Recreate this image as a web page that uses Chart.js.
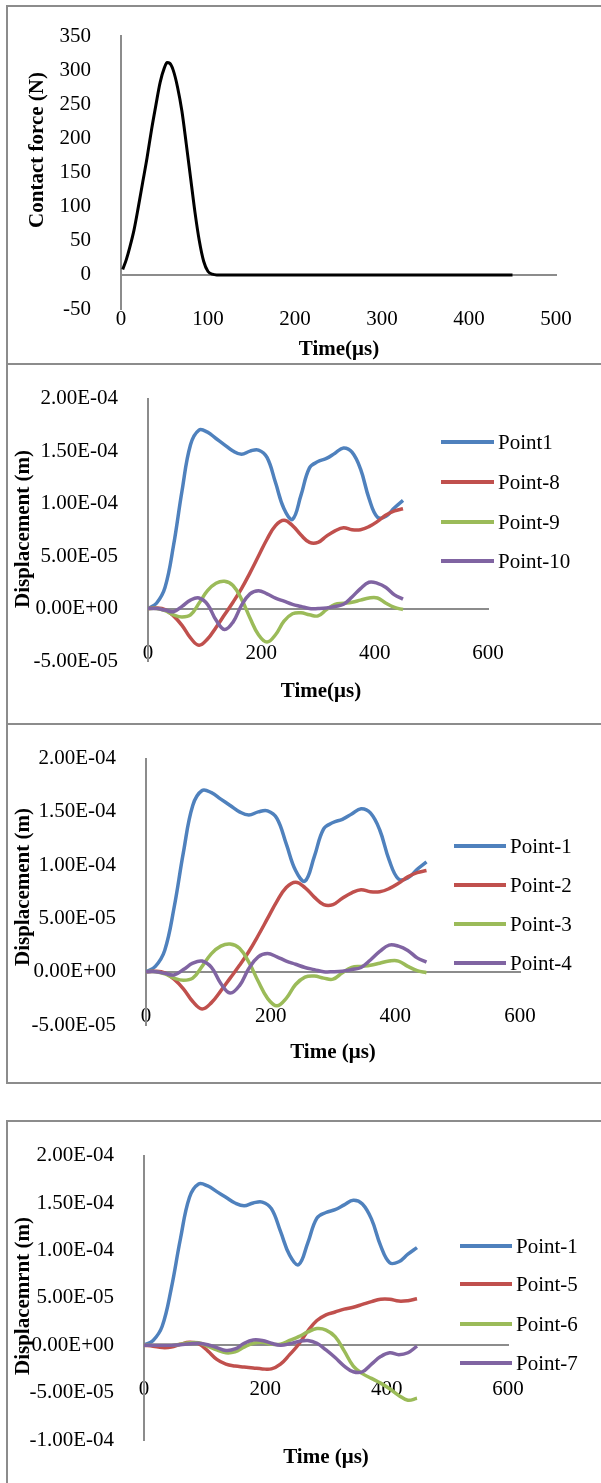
<!DOCTYPE html>
<html>
<head>
<meta charset="utf-8">
<script src="https://cdn.jsdelivr.net/npm/chart.js@4.4.1/dist/chart.umd.min.js"></script>
<style>
    html, body { margin: 0; padding: 0; background: #ffffff; }
    body { position: relative; width: 601px; height: 1483px; overflow: hidden; }
    canvas { position: absolute; left: 0; }
    .rule { position: absolute; background: #8c8c8c; }
</style>
</head>
<body>
<div class="rule" style="left:6px;top:5px;width:600px;height:2px"></div>
<div class="rule" style="left:6px;top:363px;width:600px;height:2px"></div>
<div class="rule" style="left:6px;top:723px;width:600px;height:2px"></div>
<div class="rule" style="left:6px;top:1082px;width:600px;height:2px"></div>
<div class="rule" style="left:6px;top:1120px;width:600px;height:2px"></div>
<div class="rule" style="left:6px;top:5px;width:2px;height:1079px"></div>
<div class="rule" style="left:6px;top:1120px;width:2px;height:400px"></div>

<canvas id="forceChart" width="601" height="364" style="top:0px"></canvas>
<canvas id="dispChartA" width="601" height="360" style="top:364px"></canvas>
<canvas id="dispChartB" width="601" height="359" style="top:724px"></canvas>
<canvas id="dispChartC" width="601" height="362" style="top:1121px"></canvas>

<script>
// contact force (N) vs time (µs)
const forceTime = [2, 6, 10, 15, 20, 25, 30, 35, 40, 45, 50, 53, 56, 60, 65, 70, 75, 80, 85, 90, 95, 100, 105, 110, 150, 200, 250, 300, 350, 400, 450];
const forceValues = [8, 22, 40, 66, 100, 136, 172, 212, 248, 282, 304, 311, 310, 300, 275, 240, 192, 142, 92, 50, 20, 5, 1, 0, 0, 0, 0, 0, 0, 0, 0];

// displacement, in units of 1e-5 m, sampled every 15 µs
const time = [0, 15, 30, 45, 60, 75, 90, 105, 120, 135, 150, 165, 180, 195, 210, 225,
              240, 255, 270, 285, 300, 315, 330, 345, 360, 375, 390, 405, 420, 435, 450];
const point1 = [0, 0.5, 2.0, 6.0, 11.2, 15.6, 17.0, 16.8, 16.2, 15.6, 15.0, 14.7, 15.0, 15.1, 14.4, 12.0,
                9.5, 8.5, 10.8, 13.4, 14.0, 14.3, 14.8, 15.3, 14.9, 13.3, 10.5, 8.7, 8.8, 9.6, 10.3];
const point2 = [0, 0.05, -0.1, -0.7, -1.6, -2.8, -3.5, -2.9, -1.8, -0.6, 0.6, 1.9, 3.4, 5.0, 6.6, 7.9,
                8.4, 7.9, 7.0, 6.3, 6.3, 6.9, 7.4, 7.7, 7.5, 7.5, 7.8, 8.3, 8.9, 9.3, 9.5];
const point3 = [0, 0, -0.2, -0.6, -0.8, -0.6, 0.5, 1.7, 2.4, 2.6, 2.2, 0.9, -0.9, -2.5, -3.2, -2.5,
                -1.2, -0.5, -0.4, -0.6, -0.7, -0.1, 0.4, 0.5, 0.6, 0.8, 1.0, 1.0, 0.5, 0.1, -0.1];
const point4 = [0, 0, -0.15, -0.3, 0.2, 0.8, 1.0, 0.4, -1.1, -2.0, -1.3, 0.3, 1.4, 1.7, 1.4, 1.0,
                0.7, 0.4, 0.2, 0.0, 0.0, 0.05, 0.2, 0.4, 1.1, 1.9, 2.5, 2.4, 2.0, 1.3, 0.9];
const point5 = [0, -0.1, -0.25, -0.2, 0.1, 0.3, 0.15, -0.6, -1.5, -2.0, -2.2, -2.3, -2.4, -2.5, -2.5, -2.0,
                -1.0, 0.1, 1.5, 2.6, 3.2, 3.5, 3.8, 4.0, 4.3, 4.6, 4.85, 4.85, 4.65, 4.7, 4.9];
const point6 = [0, 0, 0, 0, 0.1, 0.25, 0.25, -0.1, -0.5, -0.8, -0.7, -0.2, 0.2, 0.3, 0.1, 0.1,
                0.5, 0.9, 1.4, 1.75, 1.6, 0.9, -0.6, -2.2, -3.0, -3.5, -4.0, -4.6, -5.3, -5.8, -5.6];
const point7 = [0, 0, 0, 0, 0.05, 0.15, 0.2, 0.05, -0.25, -0.55, -0.4, 0.2, 0.55, 0.5, 0.2, 0.0,
                0.15, 0.4, 0.5, 0.2, -0.5, -1.3, -2.2, -2.8, -2.8, -2.0, -1.2, -0.8, -1.0, -0.8, -0.1];

const labelsA = ["Point1", "Point-8", "Point-9", "Point-10"];
const labelsB = ["Point-1", "Point-2", "Point-3", "Point-4"];
const labelsC = ["Point-1", "Point-5", "Point-6", "Point-7"];

const colors = ["#4F81BD", "#C0504D", "#9BBB59", "#8064A2"];
const axisGrey = "#8c8c8c";
const serif = "'Liberation Serif', 'Times New Roman', serif";

function sci(v) {
    const m = v * 1e-5;
    if (Math.abs(m) < 1e-12) return "0.00E+00";
    const parts = m.toExponential(2).split("e");
    const n = parseInt(parts[1], 10);
    return parts[0] + "E" + (n < 0 ? "-" : "+") + String(Math.abs(n)).padStart(2, "0");
}

function series(xs, ys) {
    return xs.map((x, i) => ({ x: x, y: ys[i] }));
}

// axis titles + legend drawn at fixed spots, like the Excel original
const panelText = {
    id: "panelText",
    afterDraw(chart, args, o) {
        const ctx = chart.ctx;
        ctx.save();
        ctx.fillStyle = "#000";
        ctx.font = "bold 21px " + serif;
        ctx.textAlign = "center";
        ctx.textBaseline = "middle";
        ctx.fillText(o.xTitle, o.xTitleAt[0], o.xTitleAt[1]);
        ctx.translate(o.yTitleAt[0], o.yTitleAt[1]);
        ctx.rotate(-Math.PI / 2);
        ctx.fillText(o.yTitle, 0, 0);
        ctx.restore();

        if (o.legend) {
            ctx.save();
            ctx.font = "21px " + serif;
            ctx.textAlign = "left";
            ctx.textBaseline = "middle";
            chart.data.datasets.forEach((ds, i) => {
                const y = o.legend.rows[i];
                ctx.strokeStyle = ds.borderColor;
                ctx.lineWidth = 4;
                ctx.beginPath();
                ctx.moveTo(o.legend.x1, y);
                ctx.lineTo(o.legend.x2, y);
                ctx.stroke();
                ctx.fillStyle = "#000";
                ctx.fillText(ds.label, o.legend.tx, y + 1);
            });
            ctx.restore();
        }
    }
};

function makeChart(id, datasets, cfg) {
    return new Chart(document.getElementById(id), {
        type: "line",
        data: { datasets },
        options: {
            responsive: false,
            animation: false,
            layout: { padding: cfg.pad },
            elements: { point: { radius: 0 }, line: { tension: 0.4 } },
            plugins: {
                legend: { display: false },
                tooltip: { enabled: false },
                panelText: cfg.text
            },
            scales: {
                x: {
                    type: "linear",
                    min: cfg.x[0],
                    max: cfg.x[1],
                    position: { y: 0 },
                    grid: { display: false },
                    border: { color: axisGrey, width: 2 },
                    ticks: {
                        stepSize: cfg.x[2],
                        padding: 24,
                        color: "#000",
                        maxRotation: 0,
                        autoSkip: false,
                        font: { family: serif, size: 21 }
                    }
                },
                y: {
                    type: "linear",
                    min: cfg.y[0],
                    max: cfg.y[1],
                    grid: { display: false },
                    border: { color: axisGrey, width: 2 },
                    ticks: {
                        stepSize: cfg.y[2],
                        padding: 22,
                        color: "#000",
                        font: { family: serif, size: 21 },
                        callback: cfg.yFmt
                    },
                    afterFit: s => { s.width = cfg.left; }
                }
            }
        },
        plugins: [panelText]
    });
}

function dispSets(labels, arrays) {
    return arrays.map((arr, i) => ({
        label: labels[i],
        data: series(time, arr),
        borderColor: colors[i],
        borderWidth: 3.5,
        order: -i
    }));
}

function draw() {
    makeChart("forceChart", [{
        label: "Contact force",
        data: series(forceTime, forceValues),
        borderColor: "#000000",
        borderWidth: 3,
        cubicInterpolationMode: "monotone"
    }], {
        pad: { left: 0, top: 36, right: 45, bottom: 55 },
        left: 121,
        x: [0, 500, 100],
        y: [-50, 350, 50],
        yFmt: v => String(v),
        text: { xTitle: "Time(μs)", xTitleAt: [339, 350], yTitle: "Contact force (N)", yTitleAt: [38, 150] }
    });

    makeChart("dispChartA", dispSets(labelsA, [point1, point2, point3, point4]), {
        pad: { left: 0, top: 33, right: 113, bottom: 63 },
        left: 148,
        x: [0, 600, 200],
        y: [-5, 20, 5],
        yFmt: sci,
        text: {
            xTitle: "Time(μs)", xTitleAt: [321, 328],
            yTitle: "Displacement (m)", yTitleAt: [24, 165],
            legend: { x1: 441, x2: 494, tx: 498, rows: [78, 118, 158, 197] }
        }
    });

    makeChart("dispChartB", dispSets(labelsB, [point1, point2, point3, point4]), {
        pad: { left: 0, top: 26, right: 81, bottom: 58 },
        left: 146,
        x: [0, 600, 200],
        y: [-5, 20, 5],
        yFmt: sci,
        text: {
            xTitle: "Time (μs)", xTitleAt: [333, 329],
            yTitle: "Displacement (m)", yTitleAt: [24, 163],
            legend: { x1: 454, x2: 506, tx: 510, rows: [122, 161, 200, 239] }
        }
    });

    makeChart("dispChartC", dispSets(labelsC, [point1, point5, point6, point7]), {
        pad: { left: 0, top: 31, right: 93, bottom: 43 },
        left: 144,
        x: [0, 600, 200],
        y: [-10, 20, 5],
        yFmt: sci,
        text: {
            xTitle: "Time (μs)", xTitleAt: [326, 337],
            yTitle: "Displacemrnt (m)", yTitleAt: [24, 175],
            legend: { x1: 460, x2: 512, tx: 516, rows: [125, 163, 203, 242] }
        }
    });
}

Promise.all([
    document.fonts.load("21px 'Liberation Serif'"),
    document.fonts.load("bold 21px 'Liberation Serif'")
]).then(draw, draw);
</script>
</body>
</html>
